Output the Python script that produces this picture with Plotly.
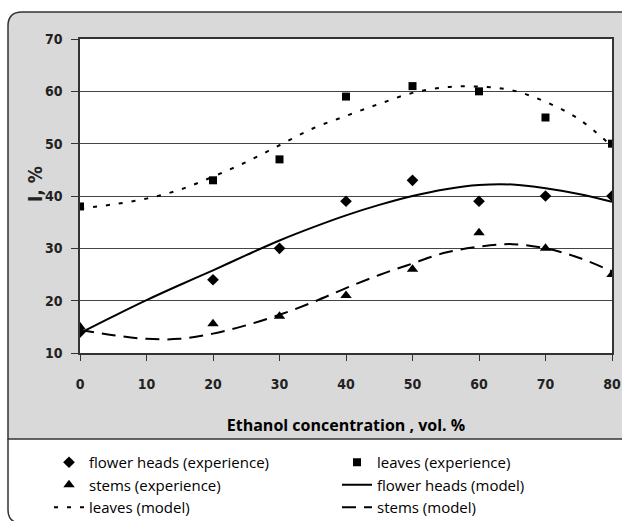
import plotly.graph_objects as go

# Experimental data
x_exp = [0, 20, 30, 40, 50, 60, 70, 80]
flower_exp = [14, 24, 30, 39, 43, 39, 40, 40]
leaves_exp = [38, 43, 47, 59, 61, 60, 55, 50]
stems_exp = [15, 15.6, 17, 21, 26, 33, 30, 25]

# Model curves
x_mod = [0, 5, 10, 15, 20, 25, 30, 35, 40, 45, 50, 55, 60, 65, 70, 75, 80]
flower_mod = [13.8, 17.0, 20.1, 23.0, 25.8, 28.7, 31.5, 34.0, 36.3, 38.3, 40.0, 41.3, 42.1, 42.2, 41.5, 40.4, 38.9]
leaves_mod = [37.6, 38.4, 39.5, 41.2, 43.7, 46.5, 49.7, 52.9, 55.3, 57.6, 59.7, 60.8, 60.9, 60.2, 58.0, 54.7, 49.5]
stems_mod = [14.4, 13.4, 12.7, 12.7, 13.7, 15.3, 17.3, 19.7, 22.4, 24.9, 27.1, 29.2, 30.3, 30.8, 30.0, 28.2, 25.6]

x_ticks = [0, 10, 20, 30, 40, 50, 60, 70, 80]
y_ticks = [10, 20, 30, 40, 50, 60, 70]

W, H = 622, 521
L, R, T, B = 80, 612, 39, 353

def px(x):
    return (x - L) / (R - L)

def py(y):
    return (B - y) / (B - T)

fig = go.Figure()
fig.add_trace(go.Scatter(x=x_exp, y=flower_exp, mode="markers", name="flower heads (experience)",
                         marker=dict(symbol="diamond", size=9, color="black")))
fig.add_trace(go.Scatter(x=x_exp, y=leaves_exp, mode="markers", name="leaves (experience)",
                         marker=dict(symbol="square", size=8, color="black")))
fig.add_trace(go.Scatter(x=x_exp, y=stems_exp, mode="markers", name="stems (experience)",
                         marker=dict(symbol="triangle-up", size=10, color="black")))
fig.add_trace(go.Scatter(x=x_mod, y=flower_mod, mode="lines", name="flower heads (model)",
                         line=dict(color="black", width=2, shape="spline")))
fig.add_trace(go.Scatter(x=x_mod, y=leaves_mod, mode="lines", name="leaves (model)",
                         line=dict(color="black", width=2, dash="4px,9px", shape="spline")))
fig.add_trace(go.Scatter(x=x_mod, y=stems_mod, mode="lines", name="stems (model)",
                         line=dict(color="black", width=2, dash="14px,8px", shape="spline")))

# gray rounded chart area
gx0, gy0, gx1, gy1, r = 8, 12, 640, 439, 14
gray_path = (f"M {px(gx0)},{py(gy1)} L {px(gx0)},{py(gy0 + r)} "
             f"Q {px(gx0)},{py(gy0)} {px(gx0 + r)},{py(gy0)} "
             f"L {px(gx1)},{py(gy0)} L {px(gx1)},{py(gy1)} Z")
white_border = (f"M {px(8)},{py(439)} L {px(8)},{py(510)} "
                f"Q {px(8)},{py(521)} {px(18)},{py(523)}")

shapes = [
    dict(type="path", path=gray_path, xref="paper", yref="paper", layer="below",
         fillcolor="#d9d9d9", line=dict(color="#333333", width=1.5)),
    dict(type="path", path=white_border, xref="paper", yref="paper", layer="below",
         line=dict(color="#333333", width=1.5)),
    dict(type="rect", x0=0, x1=1, y0=0, y1=1, xref="paper", yref="paper", layer="below",
         fillcolor="white", line=dict(width=0)),
]

tickfont = dict(family="DejaVu Sans Condensed", size=14, color="#222222", weight="bold")

fig.update_layout(
    width=W, height=H,
    margin=dict(l=L, r=W - R, t=T, b=H - B, autoexpand=False),
    paper_bgcolor="white", plot_bgcolor="white",
    shapes=shapes,
    showlegend=True,
    legend=dict(orientation="h", x=px(49), y=py(446), xanchor="left", yanchor="top",
                entrywidth=243, entrywidthmode="pixels",
                font=dict(family="Open Sans", size=15, color="black"),
                bgcolor="rgba(0,0,0,0)", tracegroupgap=0),
    xaxis=dict(range=[0, 80], tickvals=x_ticks, ticks="outside", ticklen=6, tickcolor="#333",
               showline=True, linecolor="#333", linewidth=1.5, mirror=True,
               showgrid=False, zeroline=False, tickfont=tickfont, ticklabelstandoff=11,
               title=dict(text="Ethanol concentration , vol. %",
                          font=dict(family="Open Sans", size=16, color="black", weight="bold"),
                          standoff=29)),
    yaxis=dict(range=[10, 70], tickvals=y_ticks, ticks="outside", ticklen=7, tickcolor="#333",
               showline=True, linecolor="#333", linewidth=1.5, mirror=True,
               showgrid=True, gridcolor="#444444", gridwidth=1, zeroline=False,
               tickfont=tickfont, ticklabelstandoff=6),
    annotations=[dict(text="I, %", x=px(22), y=py(184), xref="paper", yref="paper",
                      textangle=-90, showarrow=False,
                      font=dict(family="DejaVu Sans Condensed", size=19, color="#222", weight="bold"))],
)

fig.write_html("out.html", config={"displayModeBar": False},
               post_script="document.body.style.margin='0';document.body.style.overflow='hidden';")
